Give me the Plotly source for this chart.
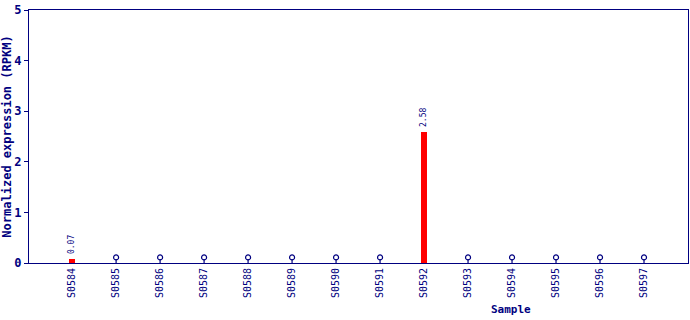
import plotly.graph_objects as go

samples = ["S0584", "S0585", "S0586", "S0587", "S0588", "S0589", "S0590",
           "S0591", "S0592", "S0593", "S0594", "S0595", "S0596", "S0597"]
values = [0.07, 0, 0, 0, 0, 0, 0, 0, 2.58, 0, 0, 0, 0, 0]
labels = ["0.07", "", "", "", "", "", "", "", "2.58", "", "", "", "", ""]

NAVY = "#000080"
FONT = "DejaVu Sans Mono"

xi = list(range(len(samples)))
bar_x = [i for i, v in zip(xi, values) if v > 0]
bar_y = [v for v in values if v > 0]
bar_t = [t for t, v in zip(labels, values) if v > 0]
zero_x = [i for i, v in zip(xi, values) if v == 0]

fig = go.Figure()
fig.add_trace(go.Bar(x=bar_x, y=bar_y, width=0.12, marker=dict(color="#ff0000", line=dict(width=0))))
# stems for zero values
fig.add_trace(go.Scatter(x=zero_x, y=[0]*len(zero_x), mode="markers",
                         marker=dict(size=1, color="rgba(0,0,0,0)"),
                         error_y=dict(type="data", symmetric=False, array=[0.08]*len(zero_x),
                                      arrayminus=[0]*len(zero_x), width=0, thickness=1.2, color=NAVY)))
fig.add_trace(go.Scatter(x=zero_x, y=[0.11]*len(zero_x), mode="markers",
                         marker=dict(symbol="circle-open", size=5, color=NAVY, line=dict(width=1.2, color=NAVY))))

for bx, by, bt in zip(bar_x, bar_y, bar_t):
    fig.add_annotation(x=bx, y=by, text=bt, showarrow=False, textangle=-90,
                       xanchor="center", yanchor="bottom", yshift=3,
                       font=dict(family=FONT, size=8, color=NAVY))

fig.update_layout(
    width=690, height=320, margin=dict(l=29, r=2, t=10, b=57),
    plot_bgcolor="white", paper_bgcolor="white", showlegend=False,
    bargap=0,
    xaxis=dict(range=[-0.98, 14.0], tickmode="array", tickvals=xi, ticktext=samples,
               tickangle=-90, tickfont=dict(family=FONT, size=10, color=NAVY),
               showgrid=False, zeroline=False, showline=True, linecolor=NAVY, linewidth=1,
               mirror=True, ticks=""),
    yaxis=dict(range=[0, 5], tickvals=[0, 1, 2, 3, 4, 5],
               tickfont=dict(family=FONT, size=12, color=NAVY, weight="bold"),
               showgrid=False, zeroline=False, showline=True, linecolor=NAVY, linewidth=1,
               mirror=True, ticks="outside", ticklen=4, tickcolor=NAVY,
               title=dict(text="Normalized expression (RPKM)", standoff=4,
                          font=dict(family=FONT, size=12, color=NAVY, weight="bold"))),
)
fig.add_annotation(text="Sample", x=(511-29)/659, xref="paper", y=(263-309)/253, yref="paper",
                   showarrow=False, xanchor="center", yanchor="middle",
                   font=dict(family=FONT, size=11, color=NAVY, weight="bold"))
fig.write_html("out.html")
